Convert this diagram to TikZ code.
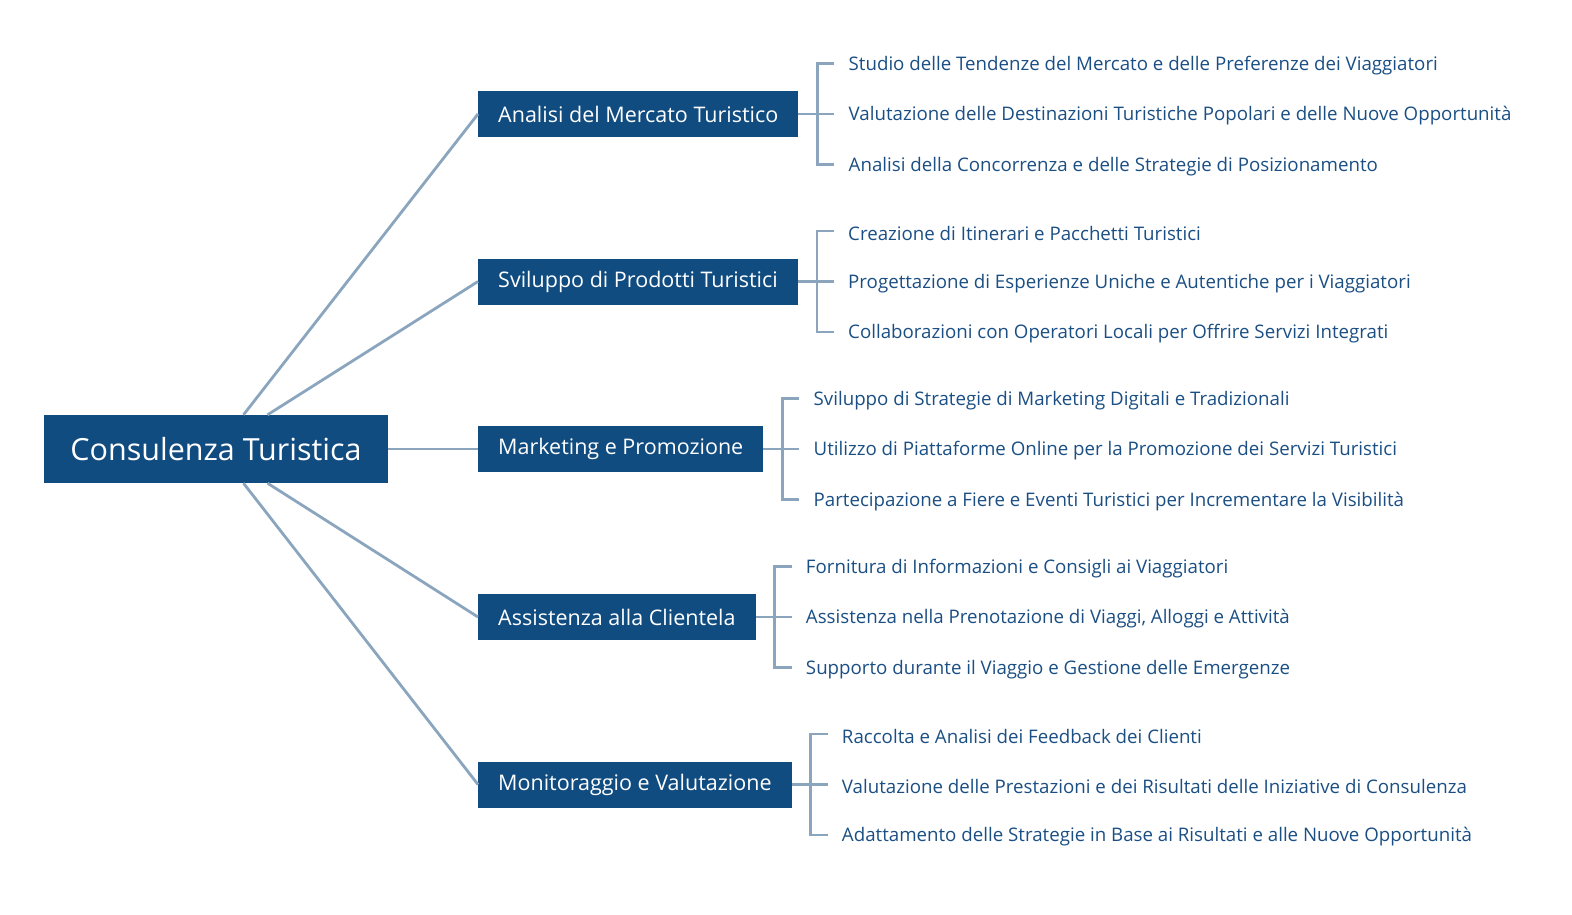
\documentclass[tikz,border=0pt]{standalone}
\usepackage{fontspec}
\setmainfont{Open Sans}
\usetikzlibrary{positioning,calc}
\definecolor{boxblue}{HTML}{114C81}
\definecolor{linkgray}{HTML}{8AA5BD}
\definecolor{leafblue}{HTML}{1B4F84}
\tikzset{
  rootbox/.style={fill=boxblue, text=white, font=\fontsize{30.5}{34}\selectfont, inner xsep=26pt, minimum height=68pt},
  topicbox/.style={fill=boxblue, text=white, font=\fontsize{21.5}{25}\selectfont, inner xsep=20pt, minimum height=46pt, anchor=west},
  leaf/.style={text=leafblue, font=\fontsize{18.7}{22}\selectfont, anchor=west, inner sep=0pt},
  link/.style={draw=linkgray, line width=2.8pt},
}
\begin{document}
\begin{tikzpicture}[x=1pt,y=-1pt]
\useasboundingbox (0,0) rectangle (1572,915);
\node[rootbox] (root) at (216,449) {Consulenza Turistica};
% main topics
\foreach \n/\y/\t in {mercato/114/Analisi del Mercato Turistico, prodotti/281.5/Sviluppo di Prodotti Turistici, marketing/449/Marketing e Promozione, clientela/617/Assistenza alla Clientela, monitor/784.5/Monitoraggio e Valutazione} {
    \node[topicbox] (\n) at (478,\y) {\t};
}
\draw[link] ($(root.north west)!0.58!(root.north east)$) -- (mercato.west);
\draw[link] ($(root.north west)!0.65!(root.north east)$) -- (prodotti.west);
\draw[link] (root.east) -- (marketing.west);
\draw[link] ($(root.south west)!0.65!(root.south east)$) -- (clientela.west);
\draw[link] ($(root.south west)!0.58!(root.south east)$) -- (monitor.west);
% subtopics with brackets
\foreach \n/\la/\lb/\lc in {
    mercato/{Studio delle Tendenze del Mercato e delle Preferenze dei Viaggiatori}/{Valutazione delle Destinazioni Turistiche Popolari e delle Nuove Opportunità}/{Analisi della Concorrenza e delle Strategie di Posizionamento},
    prodotti/{Creazione di Itinerari e Pacchetti Turistici}/{Progettazione di Esperienze Uniche e Autentiche per i Viaggiatori}/{Collaborazioni con Operatori Locali per Offrire Servizi Integrati},
    marketing/{Sviluppo di Strategie di Marketing Digitali e Tradizionali}/{Utilizzo di Piattaforme Online per la Promozione dei Servizi Turistici}/{Partecipazione a Fiere e Eventi Turistici per Incrementare la Visibilità},
    clientela/{Fornitura di Informazioni e Consigli ai Viaggiatori}/{Assistenza nella Prenotazione di Viaggi, Alloggi e Attività}/{Supporto durante il Viaggio e Gestione delle Emergenze},
    monitor/{Raccolta e Analisi dei Feedback dei Clienti}/{Valutazione delle Prestazioni e dei Risultati delle Iniziative di Consulenza}/{Adattamento delle Strategie in Base ai Risultati e alle Nuove Opportunità}} {
    \coordinate (\n-fork) at ($(\n.east)+(19,0)$);
    \node[leaf] (\n-1) at ($(\n-fork)+(31,-48.5)$) {\la};
    \node[leaf] (\n-2) at ($(\n-fork)+(31,2)$) {\lb};
    \node[leaf] (\n-3) at ($(\n-fork)+(31,52.5)$) {\lc};
    \draw[link] (\n.east) -- (\n-fork);
    \draw[link] ($(\n-1.west)+(-14,-2)$) -| (\n-fork) |- ($(\n-3.west)+(-14,-2)$);
    \draw[link] (\n-fork) -- ($(\n-2.west)+(-14,-2)$);
}
\end{tikzpicture}
\end{document}
